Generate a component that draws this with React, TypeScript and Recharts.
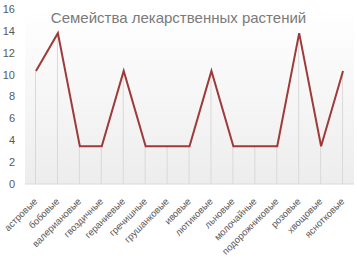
import React from 'react';
import { ComposedChart, Line, Bar, XAxis, YAxis, CartesianGrid } from 'recharts';

const families = [
  'астровые', 'бобовые', 'валериановые', 'гвоздичные', 'гераниевые', 'гречишные',
  'грушанковые', 'ивовые', 'лютиковые', 'льновые', 'молочайные', 'подорожниковые',
  'розовые', 'хвощовые', 'яснотковые',
];
const shares = [10.34, 13.79, 3.45, 3.45, 10.34, 3.45, 3.45, 3.45, 10.34, 3.45, 3.45, 3.45, 13.79, 3.45, 10.34];
const yTicks = [0, 2, 4, 6, 8, 10, 12, 14, 16];
const title = 'Семейства лекарственных растений';

const data = families.map((name, i) => ({ name, value: shares[i] }));

const FONT = '"Liberation Sans", Arial, sans-serif';

const XTick = (props: any) => {
  const { x, y, payload } = props;
  const tx = x + 2;
  const ty = y + 10;
  return (
    <text x={tx} y={ty} transform={`rotate(-45, ${tx}, ${ty})`} textAnchor="end"
      fontSize={9.5} fill="#595959" fontFamily={FONT}>
      {payload.value}
    </text>
  );
};

export default function App() {
  return (
    <div style={{ position: 'absolute', left: 0, top: 0, width: 357, height: 267, background: '#fff' }}>
      <svg width={0} height={0} style={{ position: 'absolute' }}>
        <defs>
          <linearGradient id="plotbg" x1="0" y1="0" x2="0" y2="1">
            <stop offset="0%" stopColor="#ffffff" />
            <stop offset="100%" stopColor="#ededed" />
          </linearGradient>
        </defs>
      </svg>
      <ComposedChart width={357} height={267} data={data}
        margin={{ top: 9, right: 3, left: 0, bottom: 0 }} barCategoryGap={0}>
        <CartesianGrid horizontal={false} vertical={false} fill="url(#plotbg)" />
        <XAxis dataKey="name" height={83} interval={0} tick={<XTick />} tickLine={false}
          axisLine={{ stroke: '#d9d9d9' }} />
        <YAxis width={25} domain={[0, 16]} ticks={yTicks} axisLine={false} tickLine={false}
          tick={{ fontSize: 11, fill: '#595959', fontFamily: FONT }} tickMargin={4} interval={0} />
        <Bar dataKey="value" barSize={1} fill="#d9d9d9" isAnimationActive={false} />
        <Line dataKey="value" stroke="#9e3a3a" strokeWidth={2} dot={false} isAnimationActive={false} />
      </ComposedChart>
      <div style={{ position: 'absolute', left: 0, top: 9, width: 357, textAlign: 'center',
        fontFamily: FONT, fontSize: 15, color: '#7a7a7a', letterSpacing: 0, lineHeight: '18px' }}>
        {title}
      </div>
    </div>
  );
}
